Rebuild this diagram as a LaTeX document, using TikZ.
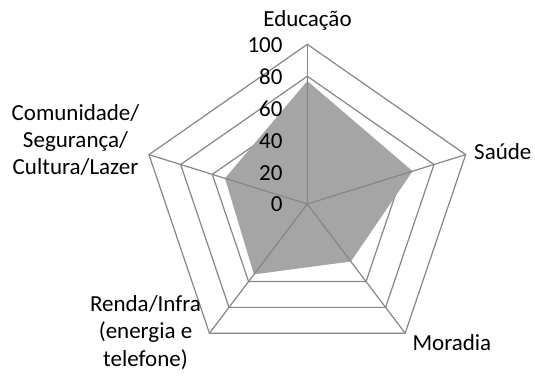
\documentclass[tikz,border=0pt]{standalone}
\usepackage{fontspec}
\setmainfont{Carlito}
\definecolor{gridgray}{HTML}{868686}
\definecolor{fillgray}{HTML}{A5A5A5}
\begin{document}
\begin{tikzpicture}[x=1pt,y=-1pt,
  gridline/.style={draw=gridgray,line width=1.2pt,line join=miter},
  spokeline/.style={draw=gridgray,line width=1.2pt},
  datafill/.style={fill=fillgray,draw=none},
  lbl/.style={font=\fontsize{23}{21.7}\selectfont,inner sep=0pt,text=black},
  num/.style={font=\fontsize{23}{21.7}\selectfont,inner sep=0pt,anchor=base east,text=black}]
\useasboundingbox (0,0) rectangle (535,379);
\begin{scope}[shift={(307.3,204)},x=166.5pt,y=159.7pt]
  \coordinate (c) at (0,0);
  \foreach \i/\a in {1/90,2/18,3/-54,4/-126,5/162}{
    \coordinate (o\i) at (\a:1);
  }
  % rings
  \foreach \r in {0.2,0.4,0.6,0.8,1}{
    \draw[gridline] (90:\r) -- (18:\r) -- (-54:\r) -- (-126:\r) -- (162:\r) -- cycle;
  }
  % data
  \coordinate (d1) at (90:0.77);
  \coordinate (d2) at (18:0.665);
  \coordinate (d3) at (-54:0.445);
  \coordinate (d4) at (-126:0.545);
  \coordinate (d5) at (162:0.52);
  \path[datafill] (d1) -- (d2) -- (d3) -- (d4) -- (d5) -- cycle;
  % spokes
  \foreach \i in {1,...,5}{ \draw[spokeline] (c) -- (o\i); }
\end{scope}
% axis numbers
\node[num] (n100) at (282.7,52.3) {100};
\node[num] (n80) at (282.7,84.3) {80};
\node[num] (n60) at (282.7,116.2) {60};
\node[num] (n40) at (282.7,148.2) {40};
\node[num] (n20) at (282.7,180.1) {20};
\node[num] (n0) at (282.7,212.0) {0};
% category labels
\node[lbl,anchor=base] (educ) at (307.5,27) {Educação};
\node[lbl,anchor=base west] (saude) at (474,160) {Saúde};
\node[lbl,anchor=base west] (morad) at (412.3,350) {Moradia};
\node[lbl,anchor=base,align=center] (comun) at (75.5,175) {Comunidade/\\[5.5pt]Segurança/\\[5.5pt]Cultura/Lazer};
\node[lbl,anchor=base,align=center] (renda) at (145.5,366) {Renda/Infra\\[5.5pt](energia e\\[5.5pt]telefone)};
\end{tikzpicture}
\end{document}
